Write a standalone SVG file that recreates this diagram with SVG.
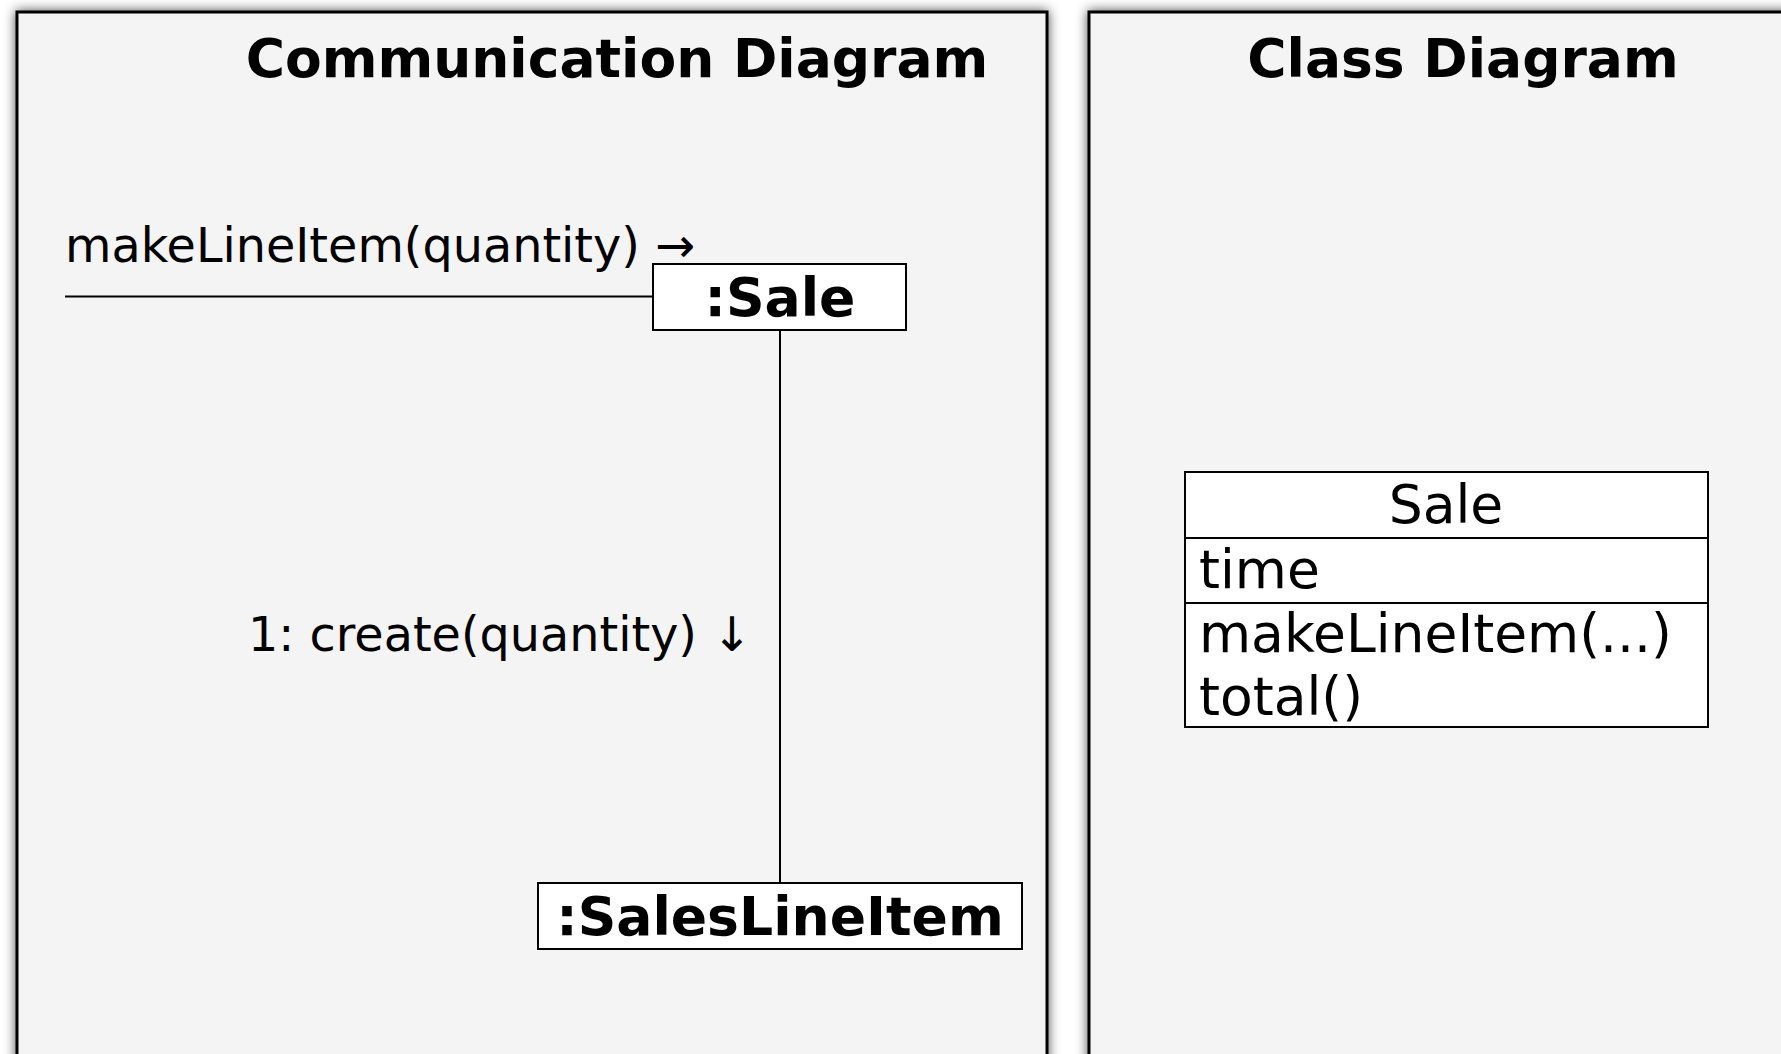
<svg xmlns="http://www.w3.org/2000/svg" width="1781" height="1054" viewBox="0 0 1781 1054">
<style>
.panel{fill:#f4f4f4;stroke:#000;stroke-width:3;filter:url(#sh)}
.title{font-family:"DejaVu Sans",sans-serif;font-weight:bold;font-size:53.5px;fill:#000;text-anchor:middle}
.obj{fill:#fff;stroke:#000;stroke-width:2}
.objt{font-family:"DejaVu Sans",sans-serif;font-weight:bold;font-size:53.6px;fill:#000;text-anchor:middle}
.msg{font-family:"DejaVu Sans",sans-serif;font-size:47.7px;fill:#000}
.cls{font-family:"DejaVu Sans",sans-serif;font-size:53.5px;fill:#000}
.ln{stroke:#000;stroke-width:2;fill:none}
</style>
<defs>
<filter id="sh" x="-10%" y="-10%" width="120%" height="120%">
<feDropShadow dx="0" dy="0" stdDeviation="6" flood-color="#000" flood-opacity="0.7"/>
</filter>
</defs>
<rect x="0" y="0" width="1781" height="1054" fill="#fff"/>
<g id="panel-communication">
<rect class="panel" x="17" y="12" width="1030" height="1080"/>
<text class="title" x="617" y="77">Communication Diagram</text>
</g>
<g id="panel-class">
<rect class="panel" x="1089" y="12" width="1030" height="1080"/>
<text class="title" x="1463" y="77">Class Diagram</text>
</g>
<g id="connectors">
<line class="ln" x1="65" y1="296.5" x2="653" y2="296.5"/>
<line class="ln" x1="780" y1="330" x2="780" y2="883"/>
<text class="msg" x="65" y="262">makeLineItem(quantity) →</text>
<text class="msg" x="248" y="651">1: create(quantity) ↓</text>
</g>
<g id="sale-object">
<rect class="obj" x="653" y="264" width="253" height="66"/>
<text class="objt" x="780" y="316">:Sale</text>
</g>
<g id="saleslineitem-object">
<rect class="obj" x="538" y="883" width="484" height="66"/>
<text class="objt" x="780" y="935">:SalesLineItem</text>
</g>
<g id="sale-class">
<rect class="obj" x="1185" y="472" width="523" height="255"/>
<line class="ln" x1="1185" y1="538" x2="1708" y2="538"/>
<line class="ln" x1="1185" y1="603" x2="1708" y2="603"/>
<text class="cls" x="1446" y="523" text-anchor="middle">Sale</text>
<text class="cls" x="1199" y="588">time</text>
<text class="cls" x="1199" y="652">makeLineItem(...)</text>
<text class="cls" x="1199" y="715">total()</text>
</g>
</svg>
